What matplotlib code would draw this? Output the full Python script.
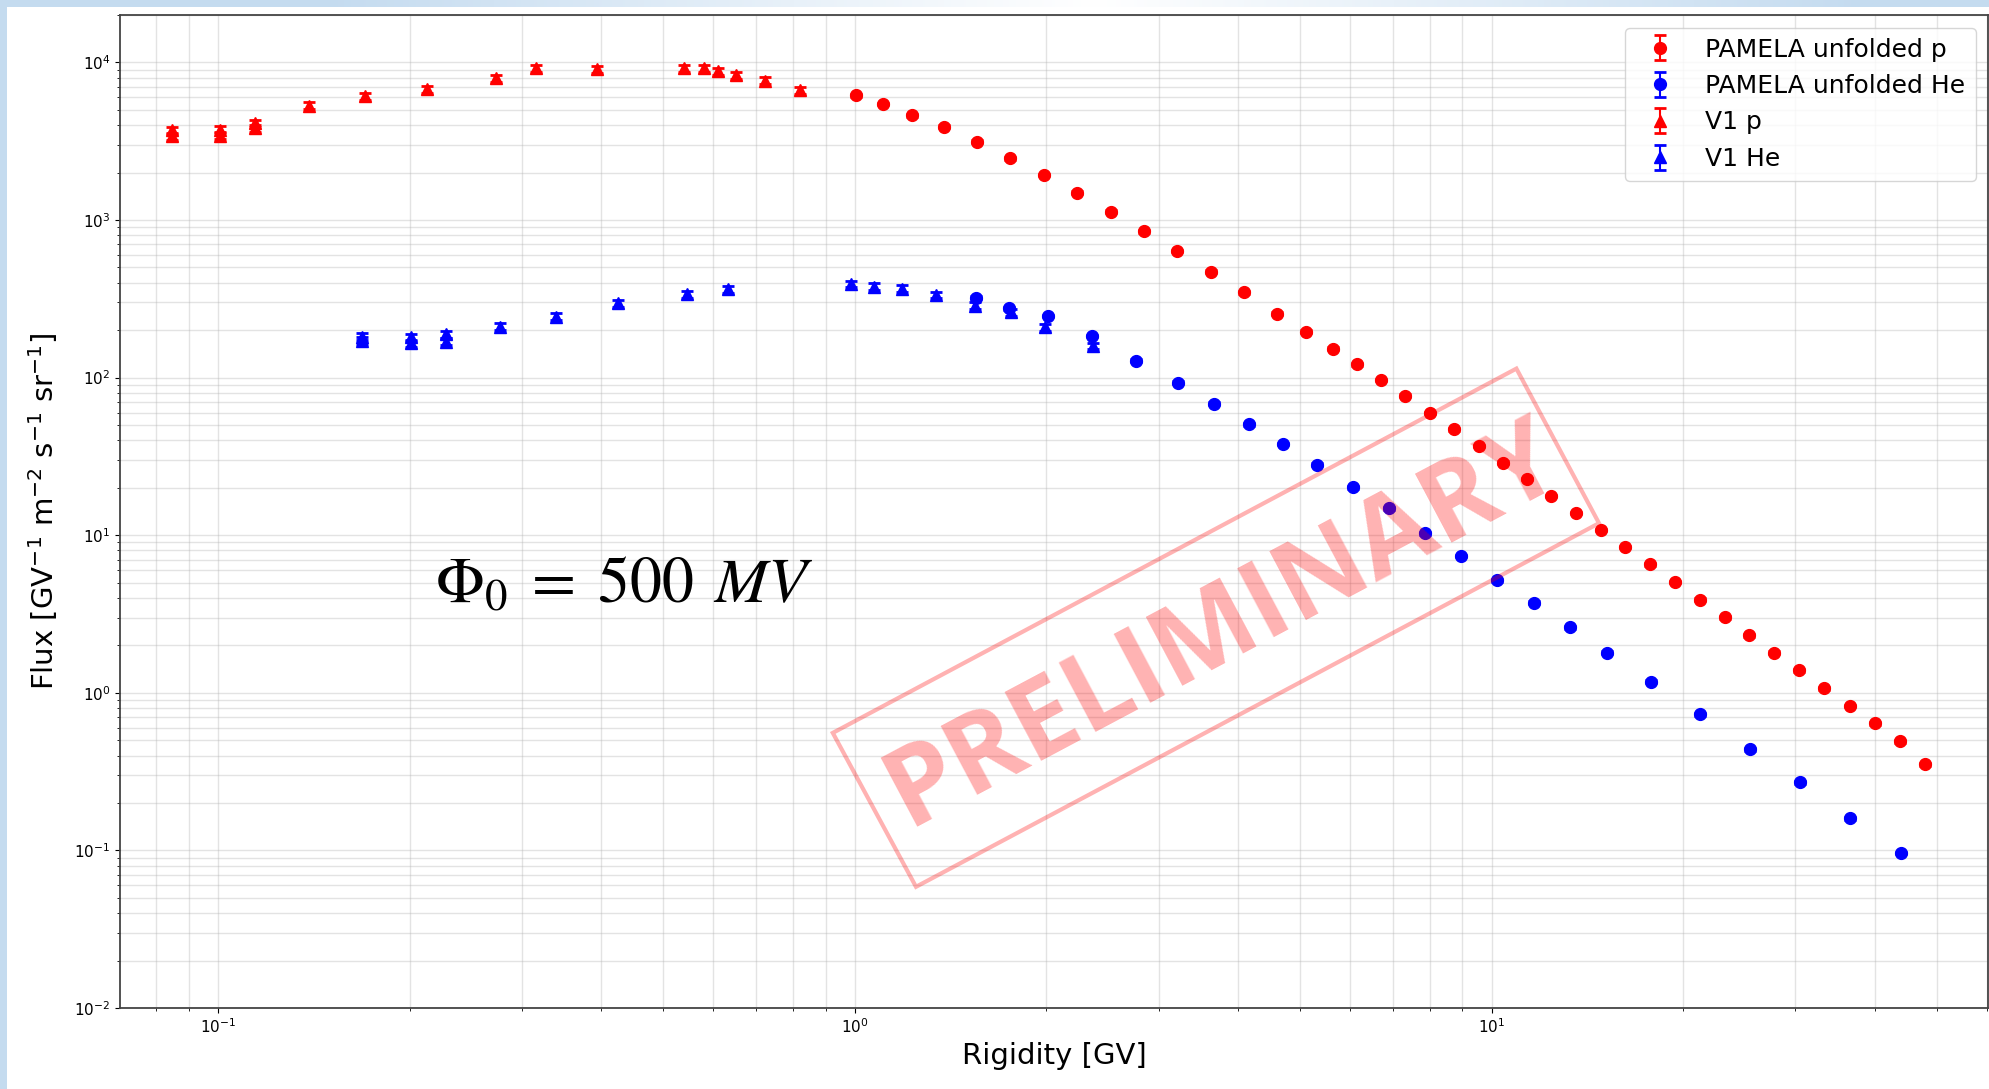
import numpy as np
import matplotlib
matplotlib.use("Agg")
import matplotlib.pyplot as plt
from matplotlib.patches import Polygon

# PAMELA unfolded proton flux
pam_p_R = [1.003, 1.106, 1.231, 1.383, 1.558, 1.756, 1.982, 2.237, 2.528, 2.849,
           3.211, 3.625, 4.089, 4.601, 5.117, 5.630, 6.152, 6.699, 7.317, 8.006,
           8.733, 9.54, 10.41, 11.35, 12.41, 13.55, 14.83, 16.22, 17.73, 19.40,
           21.23, 23.22, 25.4, 27.8, 30.4, 33.3, 36.5, 40.0, 43.8, 48.0]
pam_p_F = [6170, 5443, 4608, 3905, 3150, 2458, 1928, 1489, 1127, 850,
           637, 471, 348, 255, 196, 153, 121.6, 96.7, 76.9, 59.7,
           47.0, 36.8, 28.9, 22.75, 17.74, 13.83, 10.79, 8.41, 6.53, 5.05,
           3.895, 3.01, 2.32, 1.794, 1.393, 1.071, 0.826, 0.640, 0.491, 0.351]

# PAMELA unfolded helium flux
pam_he_R = [1.550, 1.750, 2.011, 2.355, 2.767, 3.215, 3.670, 4.157, 4.70, 5.33,
            6.06, 6.91, 7.85, 8.95, 10.19, 11.65, 13.3, 15.19, 17.78, 21.28,
            25.5, 30.55, 36.6, 44.0]
pam_he_F = [322, 276, 246.5, 184, 128, 93, 68.4, 50.6, 37.9, 28.0,
            20.1, 14.8, 10.28, 7.38, 5.17, 3.73, 2.60, 1.80, 1.175, 0.729,
            0.439, 0.271, 0.160, 0.0964]

# V1 proton
v1_p_R = [0.0846, 0.0846, 0.1006, 0.1006, 0.1145, 0.1145, 0.139, 0.170, 0.213, 0.273,
          0.316, 0.394, 0.5385, 0.579, 0.610, 0.651, 0.722, 0.821]
v1_p_F = [3700, 3390, 3740, 3425, 4120, 3830, 5310, 6085, 6780, 7915,
          9210, 9080, 9160, 9210, 8770, 8320, 7650, 6640]

# V1 helium
v1_he_R = [0.1686, 0.1686, 0.201, 0.201, 0.228, 0.228, 0.277, 0.340, 0.425, 0.546,
           0.632, 0.987, 1.072, 1.186, 1.341, 1.546, 1.759, 1.990, 2.363]
v1_he_F = [182, 172, 180, 165, 189, 169, 211, 244, 297, 338,
           364, 393, 378, 366, 335, 286, 259, 209, 159]

pam_rel_err = 0.02
v1_rel_err = 0.05

W, H = 1990, 1089
fig = plt.figure(figsize=(W / 100, H / 100), dpi=100, facecolor="white")

# slide-like light blue frame on top and left
blue = np.array([0.77, 0.86, 0.94])
t = np.clip(np.abs(np.linspace(-1, 1, W) - 0.1) * 1.3, 0, 1)[:, None]
top = (1 - t) * np.ones(3) + t * blue
fig.figimage(np.repeat(top[None, :, :], 7, axis=0), xo=0, yo=H - 7, origin="upper")
fig.figimage(np.tile(blue, (H, 7, 1)), xo=0, yo=0, origin="upper")

ax = fig.add_axes([120 / W, 1 - 1008 / H, (1988 - 120) / W, (1008 - 15) / H])
ax.set_xscale("log")
ax.set_yscale("log")

pp = np.array(pam_p_F)
ph = np.array(pam_he_F)
vp = np.array(v1_p_F)
vh = np.array(v1_he_F)

ax.errorbar(pam_p_R, pp, yerr=pam_rel_err * pp, fmt="o", color="red", ms=8.5,
            capsize=4, capthick=2, elinewidth=1.5, label="PAMELA unfolded p")
ax.errorbar(pam_he_R, ph, yerr=pam_rel_err * ph, fmt="o", color="blue", ms=8.5,
            capsize=4, capthick=2, elinewidth=1.5, label="PAMELA unfolded He")
ax.errorbar(v1_p_R, vp, yerr=v1_rel_err * vp, fmt="^", color="red", ms=8,
            capsize=4, capthick=2, elinewidth=1.5, label="V1 p")
ax.errorbar(v1_he_R, vh, yerr=v1_rel_err * vh, fmt="^", color="blue", ms=8,
            capsize=4, capthick=2, elinewidth=1.5, label="V1 He")

ax.set_xlim(0.0702, 60.2)
ax.set_ylim(1e-2, 2e4)
ax.grid(True, which="both", color="#b0b0b0", alpha=0.35, linewidth=1)
ax.tick_params(which="both", labelsize=11)
for s in ax.spines.values():
    s.set_color("#444444")
    s.set_linewidth(1.3)

ax.set_xlabel("Rigidity [GV]", fontsize=21)
ax.set_ylabel(r"Flux [GV$^{-1}$ m$^{-2}$ s$^{-1}$ sr$^{-1}$]", fontsize=21, labelpad=10)
ax.legend(loc="upper right", fontsize=18)

fig.text(435 / W, 1 - 602 / H, r"$\Phi_0\;=\;500\;\,MV$", fontsize=46,
         math_fontfamily="stix", va="baseline", ha="left")

# PRELIMINARY stamp
corners = [(832.8, 732.9), (1516.4, 368.6), (1599, 523.2), (916, 886.8)]
stamp = Polygon([(x / W, 1 - y / H) for x, y in corners], closed=True, fill=False,
                edgecolor="red", alpha=0.3, linewidth=3, transform=fig.transFigure)
fig.patches.append(stamp)
fig.text(1224 / W, 1 - 626 / H, "PRELIMINARY", family="Open Sans", weight="bold",
         fontsize=79, color="red", alpha=0.3, rotation=28, rotation_mode="anchor",
         ha="center", va="center")

fig.savefig("out.png", dpi=100)
